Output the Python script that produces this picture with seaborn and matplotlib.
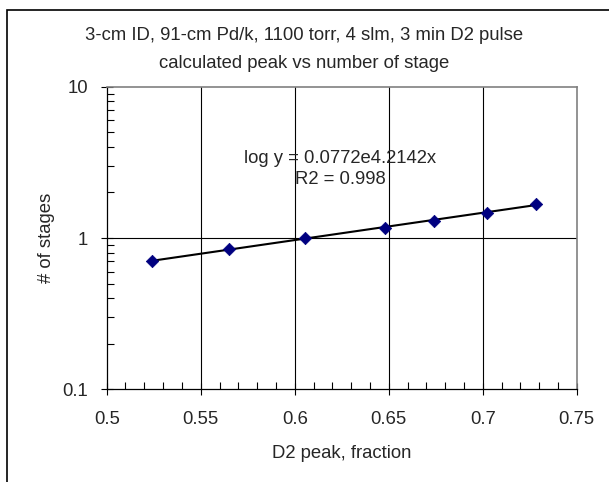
import numpy as np
import pandas as pd
import matplotlib
matplotlib.use('Agg')
import matplotlib.pyplot as plt
import seaborn as sns
from matplotlib.patches import Rectangle
from matplotlib.ticker import FixedLocator, NullFormatter, LogLocator

sns.set_style('white')
plt.rcParams['font.family'] = ['Liberation Sans', 'DejaVu Sans']
plt.rcParams['axes.unicode_minus'] = False

# data
d2_peak = [0.524, 0.565, 0.6055, 0.648, 0.674, 0.7025, 0.7285]
n_stages = [0.705, 0.846, 1.0, 1.17, 1.295, 1.47, 1.69]
x_ticks = [0.5, 0.55, 0.6, 0.65, 0.7, 0.75]
y_ticks = [0.1, 1, 10]

df = pd.DataFrame({'x': d2_peak, 'y': n_stages})

# exponential trendline fit (as in the spreadsheet)
slope, icpt = np.polyfit(df['x'], np.log(df['y']), 1)
trend = pd.DataFrame({'x': [min(d2_peak), max(d2_peak)]})
trend['y'] = np.exp(icpt) * np.exp(slope * trend['x'])

FS = 13.3

fig = plt.figure(figsize=(6.09, 4.82), dpi=100)
ax = fig.add_axes([0.1752, 0.1923, 0.7718, 0.6278])

# outer chart border
fig.patches.append(Rectangle((7 / 609, -0.1), 1.2, 1 - 10 / 482 + 0.1,
                             transform=fig.transFigure, fill=False,
                             edgecolor='black', linewidth=1.2, clip_on=False))

ax.set_yscale('log')
ax.set_xlim(0.5, 0.75)
ax.set_ylim(0.1, 10)

for xv in x_ticks[1:-1]:
    ax.axvline(xv, color='black', lw=0.8, zorder=1)
ax.axhline(1, color='black', lw=0.8, zorder=1)

sns.lineplot(data=trend, x='x', y='y', ax=ax, color='black', lw=1.5, zorder=2)
sns.scatterplot(data=df, x='x', y='y', ax=ax, marker='D', s=40,
                color='#000080', edgecolor='#000080', zorder=3)

ax.xaxis.set_major_locator(FixedLocator(x_ticks))
ax.xaxis.set_minor_locator(FixedLocator(np.arange(0.5, 0.7501, 0.01)))
ax.set_xticklabels(['0.5', '0.55', '0.6', '0.65', '0.7', '0.75'])
ax.yaxis.set_major_locator(FixedLocator(y_ticks))
ax.yaxis.set_minor_locator(LogLocator(base=10, subs=np.arange(2, 10)))
ax.yaxis.set_minor_formatter(NullFormatter())
ax.set_yticklabels(['0.1', '1', '10'])

ax.tick_params(which='major', direction='inout', length=9, width=0.8,
               color='black', labelsize=FS, left=True, bottom=True)
ax.tick_params(axis='y', which='major', pad=9)
ax.tick_params(axis='x', which='major', pad=11)
ax.tick_params(which='minor', direction='in', length=5, width=0.8,
               color='black', left=True, bottom=True)

for s in ['left', 'bottom']:
    ax.spines[s].set_color('black')
    ax.spines[s].set_linewidth(0.9)
for s in ['top', 'right']:
    ax.spines[s].set_color('#808080')
    ax.spines[s].set_linewidth(1.2)

ax.set_xlabel('D2 peak, fraction', fontsize=FS, labelpad=12)
ax.set_ylabel('# of stages', fontsize=FS, labelpad=5)

fig.text(0.5, 1 - 36 / 482, '3-cm ID, 91-cm Pd/k, 1100 torr, 4 slm, 3 min D2 pulse',
         ha='center', va='center', fontsize=FS)
fig.text(0.5, 1 - 63 / 482, 'calculated peak vs number of stage',
         ha='center', va='center', fontsize=FS)

ax.text(0.4964, 0.728, 'log y = 0.0772e4.2142x\nR2 = 0.998', transform=ax.transAxes,
        ha='center', va='center', fontsize=FS, linespacing=1.3)

fig.savefig('out.png', dpi=100)
